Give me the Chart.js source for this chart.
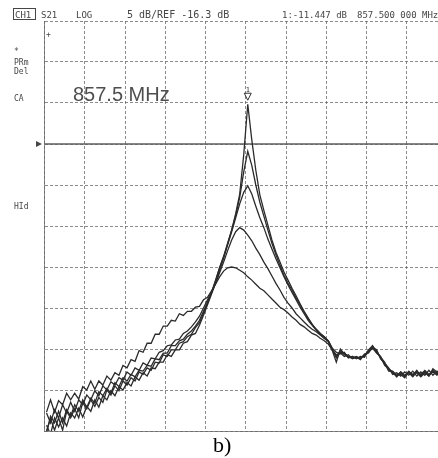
<!DOCTYPE html>
<html>
<head>
<meta charset="utf-8">
<script src="https://cdn.jsdelivr.net/npm/chart.js@4/dist/chart.umd.min.js"></script>
<style>
  html, body { margin: 0; padding: 0; background: #ffffff; overflow: hidden; width: 438px; height: 458px; }
  canvas { display: block; }
</style>
</head>
<body>
<canvas id="c" width="450" height="458" style="width:450px;height:458px"></canvas>
<script>
// ---- sweep / scale settings ----
const startMHz = 807, stopMHz = 907, divMHz = 10;
const refLevel = -16.3, dbPerDiv = 5, topLevel = -1.3, bottomLevel = -51.3;
const markerFreq = 857.5, markerLevel = -11.447;
// sweep points (1 MHz spacing, 807.5 ... 907.5 MHz)
const freqMHz = Array.from({length: 101}, (_, i) => 807.5 + i);

const trace1 = [-51.3,-49.8,-51.2,-49.7,-51.2,-48.9,-49.7,-48.6,-49.7,-47.8,
  -48.6,-47.5,-48.3,-47.2,-47.8,-46.3,-46.9,-45.8,-46.4,-45.2,
  -45.7,-44.8,-45.2,-44.1,-44.4,-43.6,-43.9,-42.9,-43.0,-42.0,
  -42.2,-41.4,-41.4,-40.6,-40.4,-39.8,-39.5,-38.7,-38.1,-36.9,
  -35.7,-34.4,-33.0,-31.4,-30.0,-28.4,-26.8,-24.8,-22.4,-17.6,
  -11.45,-15.8,-19.5,-22.5,-24.4,-26.2,-28.0,-29.5,-30.7,-31.9,
  -32.9,-33.9,-34.8,-35.8,-36.7,-37.5,-38.3,-38.9,-39.4,-39.8,
  -40.3,-41.5,-42.9,-41.3,-41.9,-42.2,-42.4,-42.3,-42.4,-42.0,
  -41.8,-40.9,-41.7,-42.3,-43.1,-43.9,-44.1,-44.6,-44.2,-44.7,
  -44.1,-44.6,-44.0,-44.5,-44.1,-44.6,-44.0,-44.2,-43.9,-44.4,-44.0];
const trace2 = [-50.6,-51.7,-49.7,-50.8,-49.7,-50.7,-49.1,-49.7,-48.5,-49.6,
  -48.3,-48.9,-47.5,-48.4,-47.0,-47.5,-46.4,-47.0,-45.9,-46.3,
  -45.4,-45.8,-44.7,-45.1,-44.2,-44.6,-43.6,-43.7,-42.9,-42.9,
  -42.0,-42.2,-41.4,-41.4,-40.6,-40.4,-39.6,-39.4,-38.4,-37.2,
  -35.9,-34.6,-33.3,-31.7,-30.2,-28.5,-26.8,-25.0,-22.8,-19.7,
  -17.2,-18.9,-21.3,-23.4,-25.1,-26.8,-28.4,-29.8,-31.1,-32.3,
  -33.3,-34.1,-35.1,-35.9,-36.8,-37.6,-38.3,-38.9,-39.4,-39.8,
  -40.3,-41.3,-42.4,-41.7,-41.8,-42.3,-42.2,-42.5,-42.2,-42.3,
  -41.5,-41.1,-41.4,-42.5,-43.0,-43.6,-44.4,-44.2,-44.6,-44.1,
  -44.5,-44.0,-44.6,-44.1,-44.5,-43.9,-44.5,-44.0,-44.4,-43.9,-44.2];
const trace3 = [-51.5,-49.5,-50.3,-48.9,-50.3,-48.7,-49.5,-48.1,-48.9,-47.5,
  -48.4,-47.3,-47.9,-46.5,-47.0,-46.1,-46.7,-45.4,-45.9,-44.8,
  -45.2,-44.4,-44.7,-43.9,-44.0,-43.3,-43.4,-42.5,-42.6,-41.8,
  -41.8,-40.9,-40.9,-40.3,-40.1,-39.5,-39.1,-38.5,-37.8,-36.7,
  -35.6,-34.4,-32.9,-31.4,-30.1,-28.6,-27.0,-25.3,-23.6,-22.2,
  -21.4,-22.4,-23.9,-25.3,-26.5,-27.9,-29.1,-30.3,-31.4,-32.5,
  -33.5,-34.4,-35.3,-36.2,-37.0,-37.8,-38.4,-39.0,-39.5,-40.0,
  -40.4,-41.4,-42.0,-41.8,-42.2,-42.0,-42.5,-42.3,-42.6,-41.9,
  -41.7,-41.2,-41.8,-42.2,-43.3,-43.7,-44.1,-44.7,-44.1,-44.5,
  -44.2,-44.7,-44.1,-44.4,-43.9,-44.4,-44.1,-44.5,-44.0,-44.2,-43.7];
const trace4 = [-49.1,-50.3,-48.7,-49.7,-48.1,-49.1,-47.8,-48.9,-47.5,-48.1,
  -46.9,-47.5,-46.4,-47.0,-45.8,-46.3,-45.3,-45.7,-44.8,-45.1,
  -44.1,-44.5,-43.6,-43.9,-43.0,-43.3,-42.4,-42.5,-41.7,-41.5,
  -40.9,-40.8,-40.2,-40.1,-39.4,-39.1,-38.6,-38.0,-37.3,-36.3,
  -35.3,-34.4,-33.3,-32.0,-30.7,-29.3,-28.0,-27.0,-26.5,-26.8,
  -27.4,-28.1,-29.0,-29.8,-30.7,-31.5,-32.4,-33.3,-34.1,-35.0,
  -35.7,-36.3,-37.0,-37.5,-38.0,-38.5,-38.9,-39.2,-39.6,-40.0,
  -40.3,-41.2,-41.7,-41.9,-41.7,-42.4,-42.2,-42.4,-42.3,-42.2,
  -41.4,-40.9,-41.7,-42.3,-42.9,-44.0,-44.0,-44.5,-44.4,-44.8,
  -44.1,-44.4,-44.2,-44.7,-44.2,-44.6,-43.7,-44.1,-44.1,-44.5,-44.0];
const trace5 = [-49.0,-47.5,-49.0,-47.6,-48.1,-46.7,-47.5,-46.7,-47.4,-45.9,
  -46.3,-45.2,-46.2,-45.2,-45.7,-44.6,-45.1,-44.2,-44.5,-43.3,
  -43.6,-42.6,-42.8,-41.5,-41.7,-40.6,-40.6,-39.5,-39.5,-38.5,
  -38.5,-37.8,-37.9,-37.0,-37.2,-36.7,-36.7,-36.2,-36.1,-35.3,
  -35.0,-34.2,-33.4,-32.5,-31.8,-31.4,-31.3,-31.4,-31.7,-32.0,
  -32.5,-32.9,-33.4,-33.9,-34.2,-34.7,-35.2,-35.7,-36.2,-36.5,
  -36.9,-37.4,-37.8,-38.3,-38.6,-39.0,-39.4,-39.6,-40.0,-40.3,
  -40.7,-41.4,-42.2,-41.5,-42.0,-42.3,-42.4,-42.2,-42.5,-42.0,
  -41.7,-41.1,-41.5,-42.4,-43.1,-43.7,-44.2,-44.6,-44.1,-44.6,
  -44.0,-44.5,-43.9,-44.6,-44.0,-44.5,-43.9,-44.4,-43.7,-44.1,-43.9];
const traces = [trace1, trace2, trace3, trace4, trace5];

const toPoints = arr => arr.map((v, i) => ({x: freqMHz[i], y: v}));

const datasets = traces.map(t => ({
  data: toPoints(t),
  borderColor: '#2b2b2b',
  borderWidth: 1.3,
  pointRadius: 0,
  tension: 0,
  fill: false
}));
datasets.push({
  data: [{x: startMHz, y: refLevel}, {x: stopMHz, y: refLevel}],
  borderColor: '#5e5e5e',
  borderWidth: 1.6,
  pointRadius: 0,
  fill: false
});

const overlay = {
  id: 'overlay',
  afterDraw(chart) {
    const ctx = chart.ctx;
    const xs = chart.scales.x, ys = chart.scales.y;
    ctx.save();
    ctx.fillStyle = '#464646';
    ctx.strokeStyle = '#464646';
    ctx.textBaseline = 'alphabetic';
    // header line
    ctx.font = '9px "DejaVu Sans Mono"';
    ctx.lineWidth = 1;
    ctx.strokeRect(13.5, 8.5, 22, 11);
    ctx.fillText('CH1', 15, 17.5);
    ctx.fillText('S21', 41, 17.5);
    ctx.fillText('LOG', 76, 17.5);
    ctx.font = '10px "DejaVu Sans Mono"';
    ctx.fillText('5 dB/REF -16.3 dB', 127, 17.5);
    ctx.font = '9px "DejaVu Sans Mono"';
    ctx.fillText('1:-11.447 dB', 282, 17.5);
    ctx.fillText('857.500 000 MHz', 357, 17.5);
    // left annotations
    ctx.font = '8px "DejaVu Sans Mono"';
    ctx.fillText('*', 14, 54);
    ctx.fillText('PRm', 14, 65);
    ctx.fillText('Del', 14, 74);
    ctx.fillText('CA', 14, 101);
    ctx.fillText('HId', 14, 209);
    ctx.fillText('+', 46, 37);
    // reference-level pointer
    const ry = ys.getPixelForValue(refLevel);
    ctx.beginPath();
    ctx.moveTo(36, ry - 3); ctx.lineTo(42, ry); ctx.lineTo(36, ry + 3); ctx.closePath();
    ctx.fill();
    // big marker annotation
    ctx.fillStyle = '#4e4e4e';
    ctx.font = '20px "Liberation Sans"';
    ctx.fillText('857.5 MHz', 73, 101);
    // marker 1 at the peak
    const mx = xs.getPixelForValue(markerFreq), my = ys.getPixelForValue(markerLevel);
    ctx.fillStyle = '#333';
    ctx.strokeStyle = '#333';
    ctx.beginPath();
    ctx.moveTo(mx - 3.5, my - 11); ctx.lineTo(mx + 3.5, my - 11); ctx.lineTo(mx, my - 4); ctx.closePath();
    ctx.stroke();
    ctx.font = '7px "DejaVu Sans Mono"';
    ctx.textAlign = 'center';
    ctx.fillText('1', mx, my - 12.5);
    // caption
    ctx.fillStyle = '#000';
    ctx.textAlign = 'left';
    ctx.font = '22px "Liberation Serif"';
    ctx.fillText('b)', 213, 452);
    ctx.restore();
  }
};

new Chart(document.getElementById('c'), {
  type: 'line',
  data: { datasets },
  options: {
    responsive: false,
    devicePixelRatio: 1,
    animation: false,
    events: [],
    layout: { padding: { left: 44.5, top: 21, right: 3, bottom: 27 } },
    plugins: { legend: { display: false }, tooltip: { enabled: false } },
    scales: {
      x: {
        type: 'linear', min: startMHz, max: stopMHz,
        ticks: { display: false, stepSize: divMHz },
        grid: { color: 'rgba(100,100,100,0.75)', lineWidth: 1, drawTicks: false },
        border: { display: true, color: 'rgba(100,100,100,0.75)', dash: [3, 2] }
      },
      y: {
        type: 'linear', min: bottomLevel, max: topLevel,
        ticks: { display: false, stepSize: dbPerDiv },
        grid: { color: 'rgba(100,100,100,0.75)', lineWidth: 1, drawTicks: false },
        border: { display: true, color: 'rgba(100,100,100,0.75)', dash: [3, 2] }
      }
    }
  },
  plugins: [overlay]
});
</script>
</body>
</html>
